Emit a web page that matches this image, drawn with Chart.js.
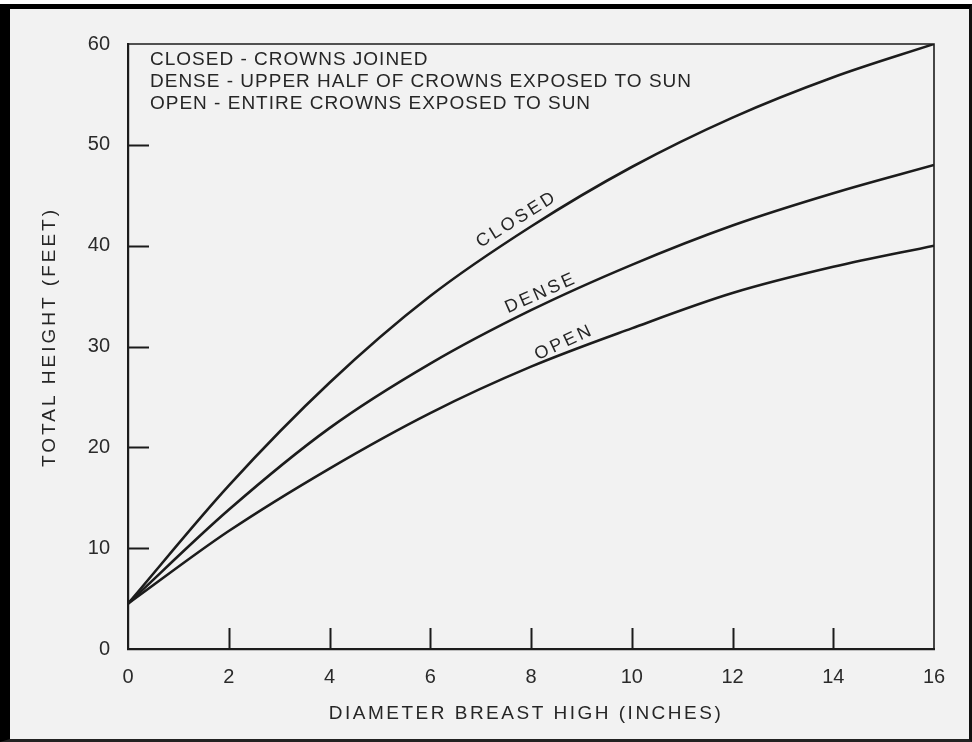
<!DOCTYPE html>
<html>
<head>
<meta charset="utf-8">
<script src="https://cdn.jsdelivr.net/npm/chart.js@4.4.1/dist/chart.umd.min.js"></script>
<style>
  html, body { margin: 0; padding: 0; background: #ffffff; }
  #frame {
    position: absolute; left: 0; top: 4px; width: 972px; height: 738px;
    box-sizing: border-box; background: #f2f2f2;
    border-left: 10px solid #000; border-top: 5px solid #000;
    border-right: 3px solid #111; border-bottom: 3px solid #222;
  }
  #c { position: absolute; left: 0; top: 0; }
</style>
</head>
<body>
<div id="frame"></div>
<canvas id="c" width="972" height="742"></canvas>
<script>
// ---- data ----
const diameters     = [0, 2, 4, 6, 8, 10, 12, 14, 16];
const closedHeights = [4.5, 16.2, 26.4, 35.0, 41.9, 47.8, 52.7, 56.7, 60.0];
const denseHeights  = [4.5, 13.8, 21.9, 28.3, 33.6, 38.1, 42.0, 45.2, 48.0];
const openHeights   = [4.5, 11.7, 17.9, 23.4, 28.0, 31.8, 35.3, 37.9, 40.0];
const xTickValues   = [0, 2, 4, 6, 8, 10, 12, 14, 16];
const yTickValues   = [0, 10, 20, 30, 40, 50, 60];
const legendLines   = [
  "CLOSED - CROWNS JOINED",
  "DENSE - UPPER HALF OF CROWNS EXPOSED TO SUN",
  "OPEN - ENTIRE CROWNS EXPOSED TO SUN"
];
const curveLabels   = ["CLOSED", "DENSE", "OPEN"];
const curveLabelAt  = [[7.72, 42.6], [8.2, 35.3], [8.66, 30.4]];
const xTitle = "DIAMETER BREAST HIGH (INCHES)";
const yTitle = "TOTAL HEIGHT (FEET)";

const INK = "#1c1c1c";
const FONT = "'Liberation Sans', Arial, sans-serif";

function pts(ys) { return diameters.map((d, i) => ({ x: d, y: ys[i] })); }

const decor = {
  id: 'decor',
  afterDraw(chart) {
    const ctx = chart.ctx;
    const xs = chart.scales.x, ys = chart.scales.y;
    const a = chart.chartArea;
    ctx.save();
    // top & right frame of plot
    ctx.strokeStyle = INK;
    ctx.lineWidth = 1.6;
    ctx.beginPath();
    ctx.moveTo(a.left, a.top); ctx.lineTo(a.right, a.top); ctx.lineTo(a.right, a.bottom);
    ctx.stroke();
    // inward ticks
    ctx.lineWidth = 2;
    xTickValues.slice(1, -1).forEach(v => {
      const px = Math.round(xs.getPixelForValue(v)) + 0.5;
      ctx.beginPath(); ctx.moveTo(px, a.bottom); ctx.lineTo(px, a.bottom - 21); ctx.stroke();
    });
    yTickValues.slice(1, -1).forEach(v => {
      const py = Math.round(ys.getPixelForValue(v)) + 0.5;
      ctx.beginPath(); ctx.moveTo(a.left, py); ctx.lineTo(a.left + 21, py); ctx.stroke();
    });
    // legend notes
    ctx.fillStyle = "#262626";
    ctx.font = "19px " + FONT;
    ctx.textBaseline = "middle";
    ctx.textAlign = "left";
    try { ctx.letterSpacing = "1px"; } catch (e) {}
    const lineY = [60, 82, 104];
    legendLines.forEach((t, i) => ctx.fillText(t, a.left + 22, lineY[i]));
    // curve labels
    ctx.font = "18px " + FONT;
    ctx.textAlign = "center";
    ctx.textBaseline = "middle";
    try { ctx.letterSpacing = "3px"; } catch (e) {}
    const angles = [-32, -24, -25];
    curveLabels.forEach((t, i) => {
      const px = xs.getPixelForValue(curveLabelAt[i][0]);
      const py = ys.getPixelForValue(curveLabelAt[i][1]);
      ctx.save();
      ctx.translate(px, py);
      ctx.rotate(angles[i] * Math.PI / 180);
      ctx.fillText(t, 0, 0);
      ctx.restore();
    });
    // axis titles
    ctx.font = "19px " + FONT;
    try { ctx.letterSpacing = "2.5px"; } catch (e) {}
    ctx.fillText(xTitle, 526, 714);
    try { ctx.letterSpacing = "3px"; } catch (e) {}
    ctx.save();
    ctx.translate(50, 337);
    ctx.rotate(-Math.PI / 2);
    ctx.fillText(yTitle, 0, 0);
    ctx.restore();
    ctx.restore();
  }
};

const lineStyle = {
  borderColor: INK, borderWidth: 2.6, pointRadius: 0, fill: false,
  cubicInterpolationMode: 'monotone'
};

new Chart(document.getElementById('c'), {
  type: 'line',
  data: {
    datasets: [
      Object.assign({ label: 'CLOSED', data: pts(closedHeights) }, lineStyle),
      Object.assign({ label: 'DENSE',  data: pts(denseHeights) },  lineStyle),
      Object.assign({ label: 'OPEN',   data: pts(openHeights) },   lineStyle)
    ]
  },
  options: {
    responsive: false,
    animation: false,
    devicePixelRatio: 1,
    layout: { padding: { left: 20, top: 44, right: 38, bottom: 10 } },
    plugins: { legend: { display: false }, tooltip: { enabled: false } },
    scales: {
      x: {
        type: 'linear', min: 0, max: 16,
        afterBuildTicks: s => { s.ticks = xTickValues.map(v => ({ value: v })); },
        afterFit: s => { s.height = 742 - 649 - 10; },
        grid: { display: false, drawTicks: false, tickLength: 0 },
        border: { display: true, color: INK, width: 2.2 },
        ticks: { color: "#2a2a2a", font: { family: FONT, size: 20 }, padding: 16, maxRotation: 0 }
      },
      y: {
        type: 'linear', min: 0, max: 60,
        afterBuildTicks: s => { s.ticks = yTickValues.map(v => ({ value: v })); },
        afterFit: s => { s.width = 128 - 20; },
        grid: { display: false, drawTicks: false, tickLength: 0 },
        border: { display: true, color: INK, width: 2.2 },
        ticks: { color: "#2a2a2a", font: { family: FONT, size: 20 }, padding: 18 }
      }
    }
  },
  plugins: [decor]
});
</script>
</body>
</html>
